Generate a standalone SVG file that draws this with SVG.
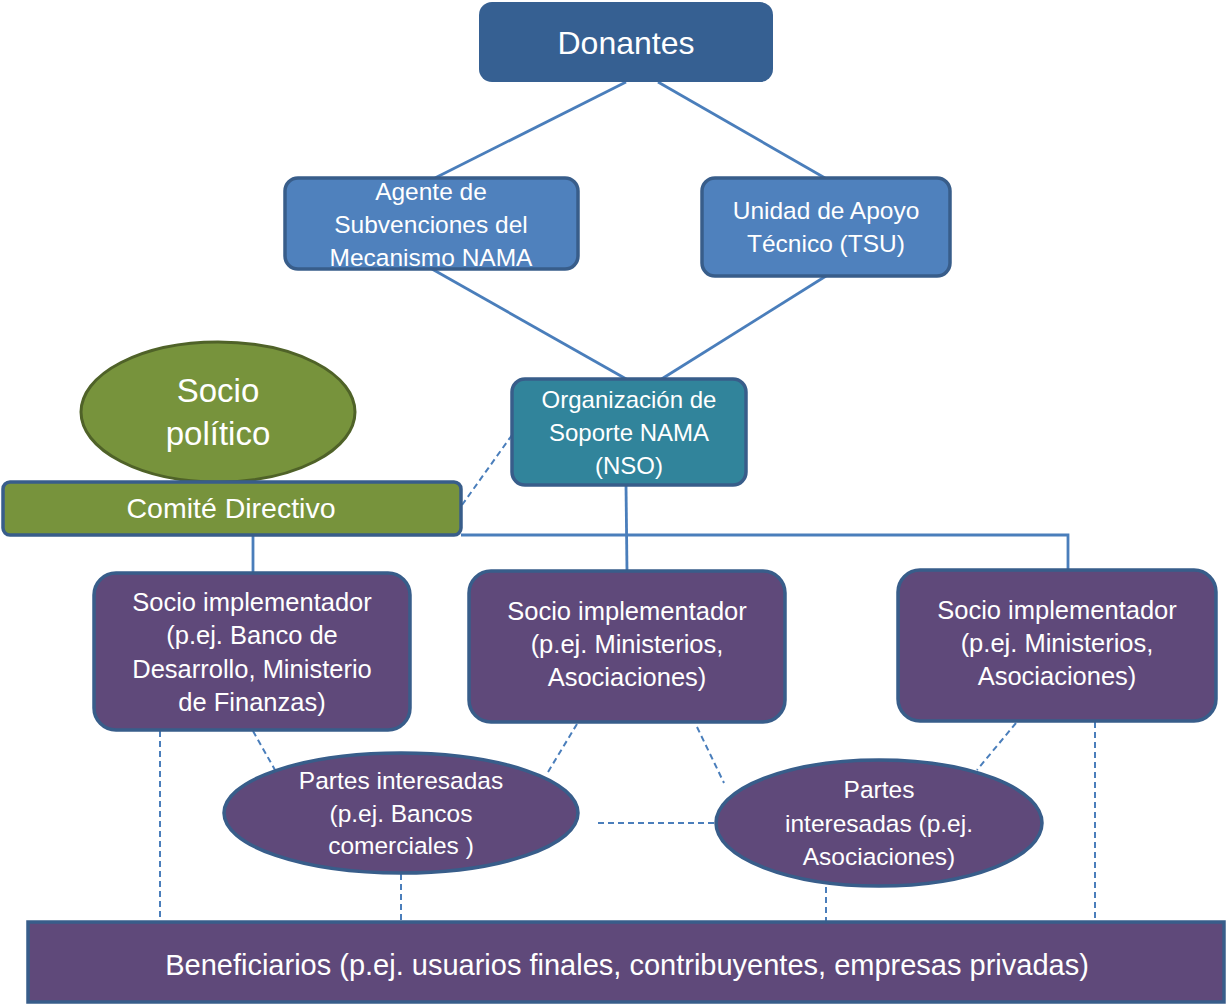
<svg xmlns="http://www.w3.org/2000/svg" width="1226" height="1004" viewBox="0 0 1226 1004">
<style>
.t{font-family:"Liberation Sans",Arial,sans-serif;fill:#fff;text-anchor:middle}
.s{stroke:#4a7ebb;stroke-width:2.8;fill:none}
.d{stroke:#4a7ebb;stroke-width:2;fill:none;stroke-dasharray:6,4}
.pu{fill:#5f497a;stroke:#385d8a;stroke-width:3.5}
</style>
<rect width="1226" height="1004" fill="#fff"/>
<g id="connectors">
<line class="s" x1="626" y1="82" x2="435" y2="178"/>
<line class="s" x1="658" y1="82" x2="825" y2="178"/>
<line class="s" x1="432" y1="269" x2="628" y2="380"/>
<line class="s" x1="826" y1="276" x2="660" y2="380"/>
<line class="s" x1="626" y1="485" x2="627" y2="571"/>
<polyline class="s" points="461,535 1068,535 1068,570"/>
<line class="s" x1="253" y1="535" x2="253" y2="573"/>
<line class="d" x1="512" y1="435" x2="462" y2="505"/>
<line class="d" x1="160" y1="731" x2="160" y2="922"/>
<line class="d" x1="253" y1="731" x2="275" y2="770"/>
<line class="d" x1="577" y1="724" x2="548" y2="772"/>
<line class="d" x1="697" y1="727" x2="724" y2="783"/>
<line class="d" x1="1016" y1="723" x2="977" y2="770"/>
<line class="d" x1="1095" y1="722" x2="1095" y2="922"/>
<line class="d" x1="401" y1="874" x2="401" y2="922"/>
<line class="d" x1="826" y1="887" x2="826" y2="922"/>
<line class="d" x1="598" y1="823" x2="716" y2="823"/>
</g>
<g id="donantes">
<rect x="479" y="2" width="294" height="80" rx="13" fill="#366092"/>
<text class="t" x="626" y="54" font-size="32">Donantes</text>
</g>
<g id="agente">
<rect x="285" y="178" width="293" height="91" rx="13" fill="#4f81bd" stroke="#385d8a" stroke-width="3.5"/>
<text class="t" font-size="24.5"><tspan x="431" y="200">Agente de</tspan><tspan x="431" y="233">Subvenciones del</tspan><tspan x="431" y="266">Mecanismo NAMA</tspan></text>
</g>
<g id="tsu">
<rect x="702" y="178" width="248" height="98" rx="13" fill="#4f81bd" stroke="#385d8a" stroke-width="3.5"/>
<text class="t" font-size="24.5"><tspan x="826" y="219">Unidad de Apoyo</tspan><tspan x="826" y="252">Técnico (TSU)</tspan></text>
</g>
<g id="nso">
<rect x="512" y="379" width="234" height="106" rx="13" fill="#31849b" stroke="#385d8a" stroke-width="3.5"/>
<text class="t" font-size="24"><tspan x="629" y="408">Organización de</tspan><tspan x="629" y="441">Soporte NAMA</tspan><tspan x="629" y="474">(NSO)</tspan></text>
</g>
<g id="socio-politico">
<ellipse cx="218" cy="412" rx="137" ry="70" fill="#77933c" stroke="#4f6228" stroke-width="3"/>
<text class="t" font-size="33"><tspan x="218" y="402">Socio</tspan><tspan x="218" y="445">político</tspan></text>
</g>
<g id="comite">
<rect x="3" y="482" width="458" height="53" rx="7" fill="#77933c" stroke="#385d8a" stroke-width="3.5"/>
<text class="t" x="231" y="518" font-size="28.5">Comité Directivo</text>
</g>
<g id="socio-impl-1">
<rect class="pu" x="94" y="573" width="316" height="157" rx="22"/>
<text class="t" font-size="25.5"><tspan x="252" y="611">Socio implementador</tspan><tspan x="252" y="644">(p.ej. Banco de</tspan><tspan x="252" y="678">Desarrollo, Ministerio</tspan><tspan x="252" y="711">de Finanzas)</tspan></text>
</g>
<g id="socio-impl-2">
<rect class="pu" x="469" y="571" width="316" height="151" rx="22"/>
<text class="t" font-size="25.5"><tspan x="627" y="620">Socio implementador</tspan><tspan x="627" y="653">(p.ej. Ministerios,</tspan><tspan x="627" y="686">Asociaciones)</tspan></text>
</g>
<g id="socio-impl-3">
<rect class="pu" x="898" y="570" width="318" height="151" rx="22"/>
<text class="t" font-size="25.5"><tspan x="1057" y="619">Socio implementador</tspan><tspan x="1057" y="652">(p.ej. Ministerios,</tspan><tspan x="1057" y="685">Asociaciones)</tspan></text>
</g>
<g id="partes-1">
<ellipse class="pu" cx="401" cy="813" rx="177" ry="60"/>
<text class="t" font-size="24.5"><tspan x="401" y="789">Partes interesadas</tspan><tspan x="401" y="822">(p.ej. Bancos</tspan><tspan x="401" y="854">comerciales )</tspan></text>
</g>
<g id="partes-2">
<ellipse class="pu" cx="879" cy="823" rx="163" ry="63"/>
<text class="t" font-size="24.5"><tspan x="879" y="798">Partes</tspan><tspan x="879" y="832">interesadas (p.ej.</tspan><tspan x="879" y="865">Asociaciones)</tspan></text>
</g>
<g id="beneficiarios">
<rect class="pu" x="28" y="922" width="1196" height="80"/>
<text class="t" x="627" y="975" font-size="29">Beneficiarios (p.ej. usuarios finales, contribuyentes, empresas privadas)</text>
</g>
</svg>
